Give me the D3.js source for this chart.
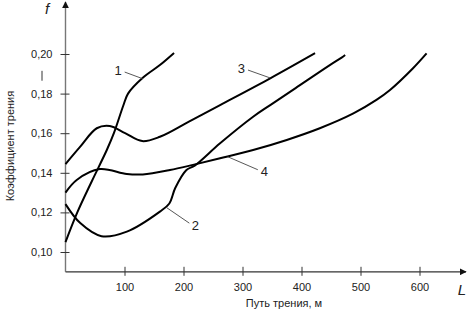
<!DOCTYPE html>
<html>
<head>
<meta charset="utf-8">
<script src="https://cdn.jsdelivr.net/npm/d3@7"></script>
<style>
  body { margin: 0; background: #fff; }
  svg { font-family: "Liberation Sans", Arial, sans-serif; }
  .curve { fill: none; stroke: #000; stroke-width: 2; }
  .leader { stroke: #444; stroke-width: 0.9; }
</style>
</head>
<body>
<div id="wrapper"></div>
<script>
// DATA (path in m, friction coefficient)
const curve1 = [[0,0.105],[20,0.120],[45,0.136],[70,0.1515],[82,0.160],[98,0.174],[106,0.180],[131,0.188],[160,0.1944],[184,0.2005]]
const curve2 = [[0,0.1242],[25,0.1146],[61,0.108],[104,0.1103],[160,0.1204],[176,0.1245],[186,0.1323],[205,0.1414],[219,0.1436],[262,0.1549],[318,0.1683],[347,0.1742],[390,0.1828],[448,0.1944],[468,0.1982],[474,0.1995]]
const curve3 = [[0,0.1444],[25,0.1532],[53,0.1625],[75,0.1636],[101,0.1600],[130,0.1560],[160,0.1582],[210,0.1660],[262,0.1742],[347,0.1877],[423,0.2004]]
const curve4 = [[0,0.130],[19,0.1364],[58,0.1419],[104,0.1394],[131,0.1392],[177,0.1414],[216,0.1440],[262,0.1473],[318,0.1515],[375,0.1566],[431,0.1625],[488,0.1700],[527,0.1768],[550,0.1818],[589,0.1928],[612,0.2003]]
const curves = [curve1, curve2, curve3, curve4]

const xTicks = [100, 200, 300, 400, 500, 600]
const yTicks = [0.10, 0.12, 0.14, 0.16, 0.18, 0.20]

// labels: name, point on curve (data), label position (data)
const labelNames = ["1", "2", "3", "4"]
const labelAnchors = [[131, 0.1875], [171, 0.1225], [347, 0.1879], [275, 0.1481]]
const labelPositions = [[89, 0.1915], [220, 0.1135], [298, 0.1925], [337, 0.1408]]

const width = 468
const height = 315

const xScale = d3.scaleLinear().domain([0, 600]).range([65.5, 419.5])
const yScale = d3.scaleLinear().domain([0.10, 0.20]).range([252, 54])

const x0 = xScale(0)
const yAxisBottom = yScale(0.09)

const svg = d3.select('#wrapper')
    .append('svg')
    .attr('width', width)
    .attr('height', height)

// arrow marker
svg.append('defs').append('marker')
    .attr('id', 'arrow')
    .attr('viewBox', '0 0 10 10')
    .attr('refX', 9).attr('refY', 5)
    .attr('markerWidth', 7).attr('markerHeight', 7)
    .attr('markerUnits', 'userSpaceOnUse')
    .attr('orient', 'auto')
    .append('path')
    .attr('d', 'M0,0 L10,5 L0,10 Z')
    .attr('fill', '#111')

// axes lines with arrows
svg.append('line')
    .attr('x1', x0).attr('y1', yAxisBottom)
    .attr('x2', x0).attr('y2', 2)
    .attr('stroke', '#777').attr('stroke-width', 1.4)
    .attr('marker-end', 'url(#arrow)')

svg.append('line')
    .attr('x1', x0).attr('y1', yAxisBottom)
    .attr('x2', 466).attr('y2', yAxisBottom)
    .attr('stroke', '#333').attr('stroke-width', 1.2)
    .attr('marker-end', 'url(#arrow)')

// Y axis ticks and labels
const yAxis = d3.axisLeft(yScale)
    .tickValues(yTicks)
    .tickSize(0)
    .tickPadding(13)
    .tickFormat(d => d3.format('.2f')(d).replace('.', ','))

const yAxisG = svg.append('g')
    .attr('transform', `translate(${x0},0)`)
    .call(yAxis)
yAxisG.select('.domain').remove()
yAxisG.selectAll('.tick text')
    .attr('font-size', 11).attr('fill', '#222')
    .attr('font-family', '"Liberation Sans", Arial, sans-serif')
yAxisG.selectAll('.tick').append('line')
    .attr('x1', -5).attr('x2', 4)
    .attr('stroke', '#333').attr('stroke-width', 1)

// X axis ticks and labels
const xAxis = d3.axisBottom(xScale)
    .tickValues(xTicks)
    .tickSize(0)
    .tickPadding(11)

const xAxisG = svg.append('g')
    .attr('transform', `translate(0,${yAxisBottom})`)
    .call(xAxis)
xAxisG.select('.domain').remove()
xAxisG.selectAll('.tick text')
    .attr('font-size', 11).attr('fill', '#222')
    .attr('font-family', '"Liberation Sans", Arial, sans-serif')
xAxisG.selectAll('.tick').append('line')
    .attr('y1', -5).attr('y2', 4)
    .attr('stroke', '#333').attr('stroke-width', 1)

// small vertical dash between 0,20 and 0,18
svg.append('line')
    .attr('x1', 42).attr('x2', 42)
    .attr('y1', yScale(0.1915)).attr('y2', yScale(0.1865))
    .attr('stroke', '#333').attr('stroke-width', 1)

// axis titles
svg.append('text')
    .attr('x', 47).attr('y', 14)
    .attr('text-anchor', 'middle')
    .attr('font-style', 'italic')
    .attr('font-size', 15)
    .attr('fill', '#222')
    .text('f')

svg.append('text')
    .attr('x', 462).attr('y', 295)
    .attr('text-anchor', 'middle')
    .attr('font-style', 'italic')
    .attr('font-size', 15)
    .attr('fill', '#222')
    .text('L')

svg.append('text')
    .attr('x', 284).attr('y', 307)
    .attr('text-anchor', 'middle')
    .attr('font-size', 11)
    .attr('fill', '#222')
    .text('Путь трения, м')

svg.append('text')
    .attr('transform', `translate(14,${yScale(0.1535)}) rotate(-90)`)
    .attr('text-anchor', 'middle')
    .attr('font-size', 11)
    .attr('fill', '#222')
    .text('Коэффициент трения')

// curves
const line = d3.line()
    .x(d => xScale(d[0]))
    .y(d => yScale(d[1]))
    .curve(d3.curveCatmullRom.alpha(0.5))

svg.selectAll('.curve')
    .data(curves)
    .enter().append('path')
    .attr('class', 'curve')
    .attr('d', line)

// leader lines and numbers
labelNames.forEach((name, i) => {
    const [ax, ay] = labelAnchors[i]
    const [lx, ly] = labelPositions[i]
    const px = xScale(lx), py = yScale(ly)
    const qx = xScale(ax), qy = yScale(ay)
    // leader starts just beside the number
    const dx = qx - px, dy = qy - py
    const len = Math.sqrt(dx * dx + dy * dy)
    svg.append('line')
        .attr('class', 'leader')
        .attr('x1', px + dx / len * 7).attr('y1', py + dy / len * 4)
        .attr('x2', qx).attr('y2', qy)
    svg.append('text')
        .attr('x', px).attr('y', py)
        .attr('text-anchor', 'middle')
        .attr('dominant-baseline', 'central')
        .attr('font-size', 13)
        .attr('fill', '#222')
        .text(name)
})
</script>
</body>
</html>
